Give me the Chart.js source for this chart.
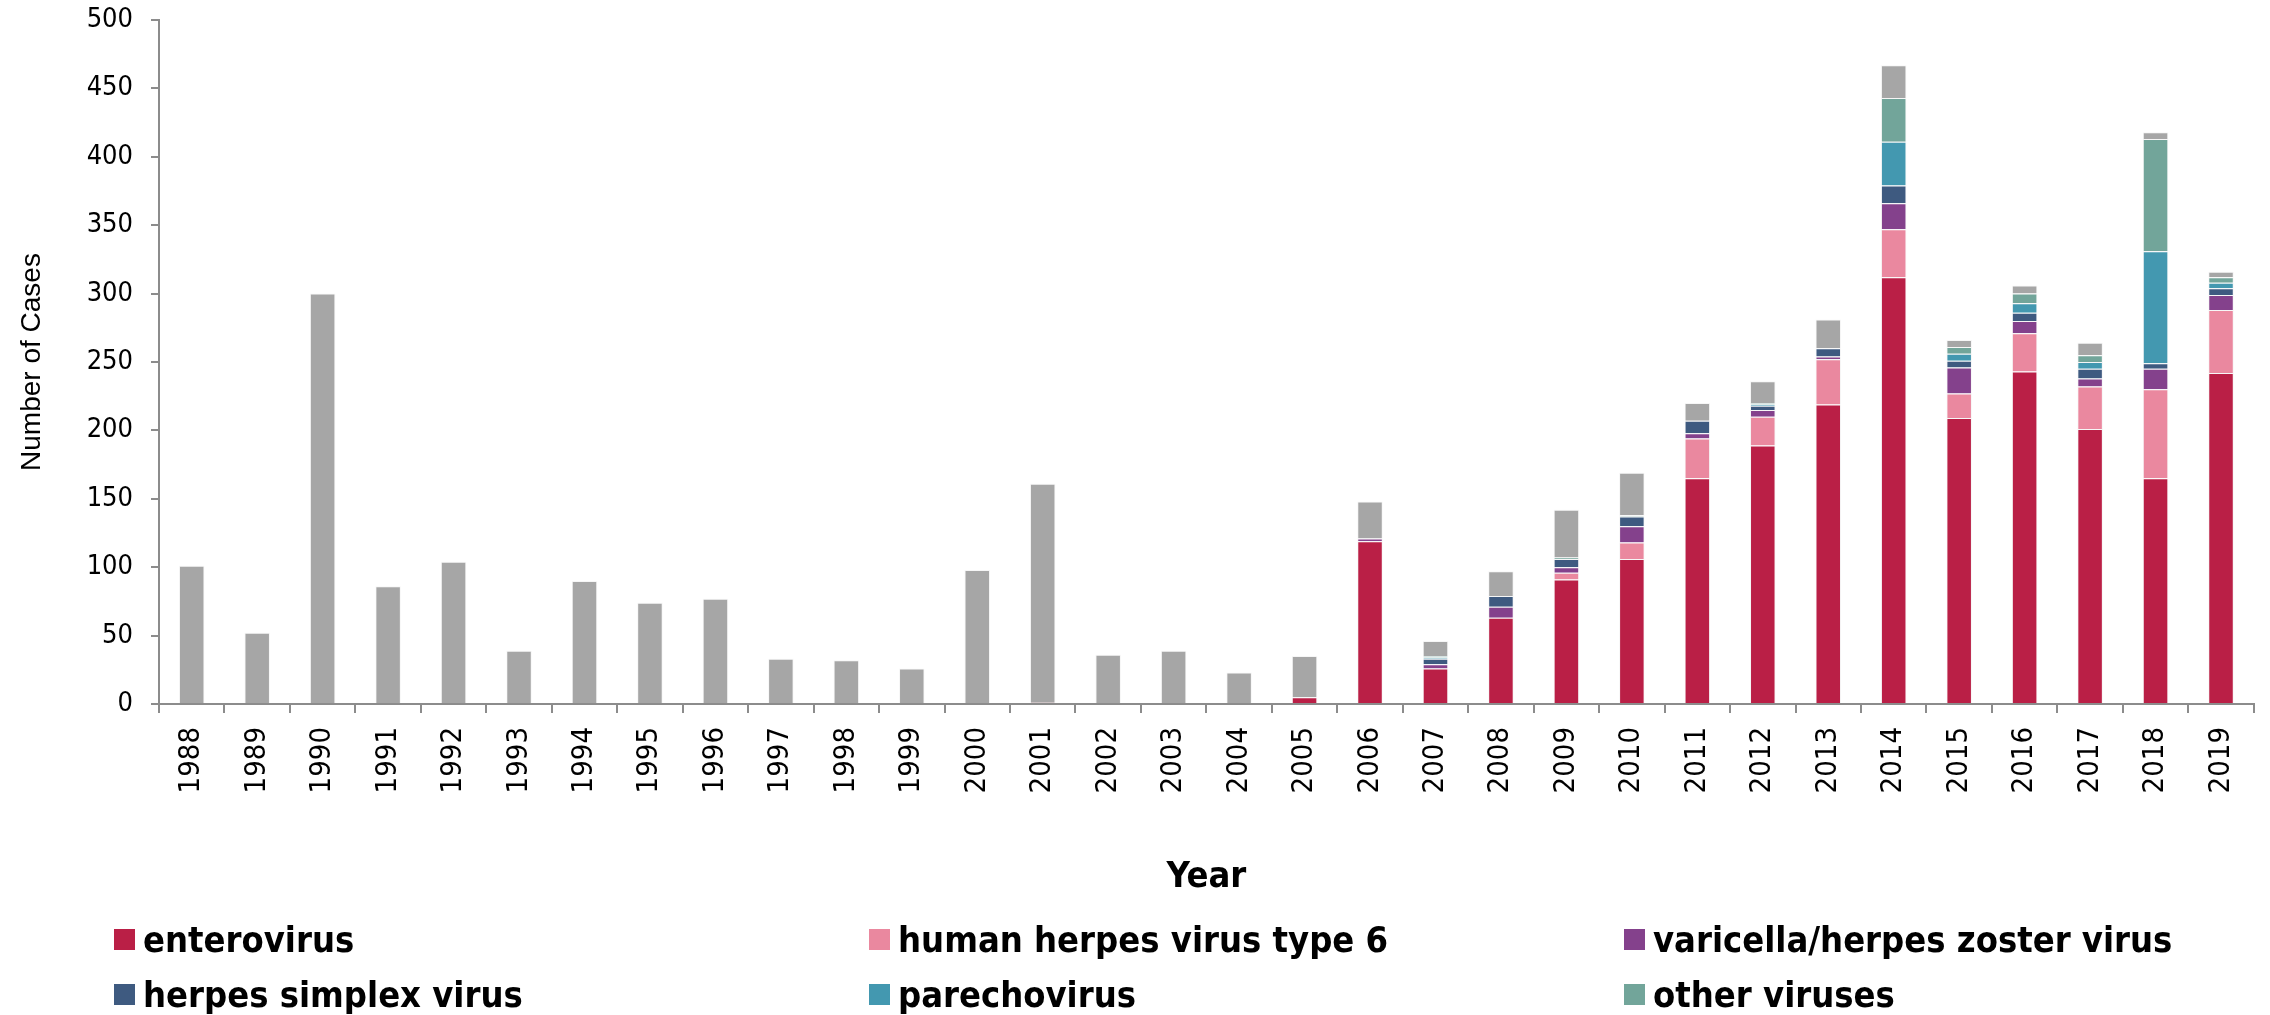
<!DOCTYPE html>
<html>
<head>
<meta charset="utf-8">
<script src="https://cdn.jsdelivr.net/npm/chart.js@4/dist/chart.umd.min.js"></script>
<style>
  html, body { margin: 0; padding: 0; background: #ffffff; }
  #wrap { width: 2270px; height: 1015px; }
</style>
</head>
<body>
<div id="wrap"><canvas id="c" width="2270" height="1015"></canvas></div>
<script>
const years = ['1988','1989','1990','1991','1992','1993','1994','1995','1996','1997','1998','1999','2000','2001','2002','2003','2004','2005','2006','2007','2008','2009','2010','2011','2012','2013','2014','2015','2016','2017','2018','2019'];

const enterovirus  = [0,0,0,0,0,0,0,0,0,0,0,0,0,1,0,0,0,5,119,26,63,91,106,165,189,219,312,209,243,201,165,242];
const hhv6         = [0,0,0,0,0,0,0,0,0,0,0,0,0,0,0,0,0,0,0,0,0,5,12,29,21,33,35,18,28,31,65,46];
const varicella    = [0,0,0,0,0,0,0,0,0,0,0,0,0,0,0,0,0,0,2,3,8,4,12,4,5,2,19,19,9,6,15,11];
const herpesSimplex= [0,0,0,0,0,0,0,0,0,0,0,0,0,0,0,0,0,0,0,4,8,6,7,9,3,6,13,5,6,7,4,5];
const parechovirus = [0,0,0,0,0,0,0,0,0,0,0,0,0,0,0,0,0,0,0,1,0,0,0,0,1,0,32,5,7,5,82,4];
const otherViruses = [0,0,0,0,0,0,0,0,0,0,0,0,0,0,0,0,0,0,0,1,0,1,1,0,1,0,32,5,7,5,82,4];
const unspecified  = [101,52,300,86,104,39,90,74,77,33,32,26,98,160,36,39,23,30,27,11,18,35,31,13,16,21,24,5,6,9,5,4];

const yTicks = { min: 0, max: 500, step: 50 };

const TICK_FONT = '"DejaVu Sans Condensed", "DejaVu Sans", sans-serif';
const TITLE_FONT = '"Liberation Sans", Arial, sans-serif';
const AXIS_GREY = '#8c8c8c';
const EDGE = 'rgba(245,245,245,0.9)';

function ds(label, data, color, inLegend) {
  return { label, data, backgroundColor: color, borderColor: EDGE, borderWidth: 1, inLegend };
}

const datasets = [
  ds('enterovirus', enterovirus, '#ba1f46', true),
  ds('human herpes virus type 6', hhv6, '#ea889f', true),
  ds('varicella/herpes zoster virus', varicella, '#84418c', true),
  ds('herpes simplex virus', herpesSimplex, '#3e5a80', true),
  ds('parechovirus', parechovirus, '#4398b0', true),
  ds('other viruses', otherViruses, '#72a59a', true),
  ds('unspecified', unspecified, '#a6a6a6', false)
];

const gridLegend = {
  id: 'gridLegend',
  afterDraw(chart) {
    const ctx = chart.ctx;
    const items = chart.data.datasets.filter(d => d.inLegend);
    const x0 = 114, dx = 755, y0 = 939.5, dy = 55, box = 21;
    ctx.save();
    ctx.font = 'bold 36px ' + TICK_FONT;
    ctx.textBaseline = 'alphabetic';
    ctx.textAlign = 'left';
    items.forEach((d, i) => {
      const col = i % 3, row = Math.floor(i / 3);
      const x = x0 + col * dx, y = y0 + row * dy;
      ctx.fillStyle = d.backgroundColor;
      ctx.fillRect(x, y - box / 2, box, box);
      ctx.fillStyle = '#000000';
      ctx.fillText(d.label, x + box + 8, y + 12);
    });
    ctx.restore();
  }
};

new Chart(document.getElementById('c'), {
  type: 'bar',
  data: { labels: years, datasets },
  plugins: [gridLegend],
  options: {
    responsive: false,
    animation: false,
    devicePixelRatio: 1,
    categoryPercentage: 1.0,
    barPercentage: 0.39,
    layout: { padding: { left: 0, right: 12, top: 20, bottom: 0 } },
    plugins: { legend: { display: false }, tooltip: { enabled: false } },
    scales: {
      x: {
        stacked: true,
        grid: { display: true, drawOnChartArea: false, drawTicks: true, tickLength: 9, color: AXIS_GREY, lineWidth: 2, offset: true },
        border: { display: true, color: AXIS_GREY, width: 2 },
        ticks: { minRotation: 90, maxRotation: 90, autoSkip: false, padding: 14, color: '#000000', font: { family: TICK_FONT, size: 29 } },
        title: { display: true, text: 'Year', color: '#000000', font: { family: TICK_FONT, size: 36, weight: 'bold' }, padding: { top: 0, bottom: 116 } },
        afterFit: s => { s.height = 311; }
      },
      y: {
        stacked: true,
        min: yTicks.min,
        max: yTicks.max,
        ticks: { stepSize: yTicks.step, padding: 18, color: '#000000', font: { family: TICK_FONT, size: 27 } },
        grid: { display: true, drawOnChartArea: false, drawTicks: true, tickLength: 8, color: AXIS_GREY, lineWidth: 2 },
        border: { display: true, color: AXIS_GREY, width: 2 },
        title: { display: true, text: 'Number of Cases', color: '#000000', font: { family: TITLE_FONT, size: 28 }, padding: { top: 15, bottom: 0 } },
        afterFit: s => { s.width = 159; s.paddingTop = 0; s.paddingBottom = 0; }
      }
    }
  }
});
</script>
</body>
</html>
